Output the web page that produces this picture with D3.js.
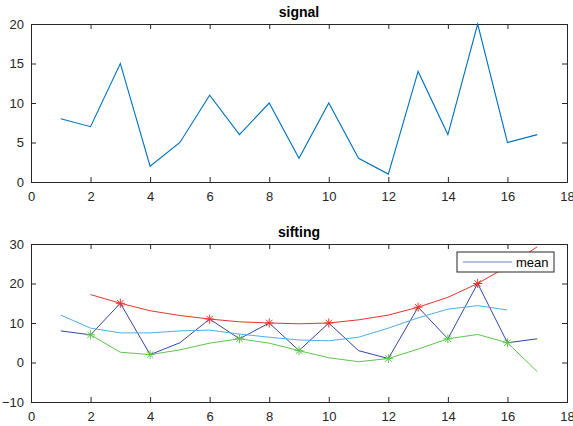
<!DOCTYPE html>
<html>
<head>
<meta charset="utf-8">
<script src="https://cdn.jsdelivr.net/npm/d3@7"></script>
<style>
  body { margin: 0; background: #fff; }
  text { font-family: "Liberation Sans", Arial, sans-serif; }
</style>
</head>
<body>
<svg id="chart" width="573" height="426"></svg>
<script>
// data
const xs = [1, 2, 3, 4, 5, 6, 7, 8, 9, 10, 11, 12, 13, 14, 15, 16, 17]
const signal = [8, 7, 15, 2, 5, 11, 6, 10, 3, 10, 3, 1, 14, 6, 20, 5, 6]
const upperX = [2, 3, 4, 5, 6, 7, 8, 9, 10, 11, 12, 13, 14, 15, 16, 17]
const upper = [17.2, 15, 13.1, 11.9, 11, 10.3, 10, 9.8, 10, 10.8, 12, 14, 16.5, 20, 24.3, 29.3]
const lowerX = [2, 3, 4, 5, 6, 7, 8, 9, 10, 11, 12, 13, 14, 15, 16, 17]
const lower = [7, 2.6, 2, 3.2, 4.9, 6, 4.9, 3, 1.2, 0.2, 1, 3.4, 6, 7.1, 5, -2.3]
const meanX = [1, 2, 3, 4, 5, 6, 7, 8, 9, 10, 11, 12, 13, 14, 15, 16]
const meanV = [12, 8.7, 7.5, 7.5, 8, 8.2, 7.2, 6.4, 5.7, 5.5, 6.4, 8.7, 11.3, 13.5, 14.4, 13.3]
const maxX = [3, 6, 8, 10, 13, 15]
const minX = [2, 4, 7, 9, 12, 14, 16]
const xTicks = [0, 2, 4, 6, 8, 10, 12, 14, 16, 18]
const yTicksTop = [0, 5, 10, 15, 20]
const yTicksBot = [-10, 0, 10, 20, 30]

const svg = d3.select('#chart')
const left = 31, right = 567
const tickLen = 5

function makeAxes(top, bottom, yDomain, yTicks, title) {
    const x = d3.scaleLinear().domain([0, 18]).range([left, right])
    const y = d3.scaleLinear().domain(yDomain).range([bottom, top])
    const g = svg.append('g')

    // inward ticks on all four sides, MATLAB style
    g.append('g')
        .attr('transform', `translate(0,${bottom})`)
        .call(d3.axisBottom(x).tickValues(xTicks).tickSize(-tickLen).tickPadding(10).tickFormat(d3.format('d')))
    g.append('g')
        .attr('transform', `translate(0,${top})`)
        .call(d3.axisTop(x).tickValues(xTicks).tickSize(-tickLen).tickFormat(''))
    g.append('g')
        .attr('transform', `translate(${left},0)`)
        .call(d3.axisLeft(y).tickValues(yTicks).tickSize(-tickLen).tickPadding(7).tickFormat(d3.format('d')))
    g.append('g')
        .attr('transform', `translate(${right},0)`)
        .call(d3.axisRight(y).tickValues(yTicks).tickSize(-tickLen).tickFormat(''))

    g.selectAll('.domain').attr('stroke', '#262626')
    g.selectAll('.tick line').attr('stroke', '#262626')
    g.selectAll('.tick text')
        .attr('font-size', 13)
        .attr('fill', '#262626')
        .attr('font-family', '"Liberation Sans", Arial, sans-serif')

    svg.append('text')
        .attr('x', (left + right) / 2)
        .attr('y', top - 7)
        .attr('text-anchor', 'middle')
        .attr('font-size', 14)
        .attr('font-weight', 'bold')
        .attr('fill', '#000')
        .text(title)

    return { x, y }
}

// top subplot
const a1 = makeAxes(24, 182, [0, 20], yTicksTop, 'signal')
svg.append('path')
    .datum(xs.map((d, i) => [d, signal[i]]))
    .attr('fill', 'none')
    .attr('stroke', '#0072BD')
    .attr('stroke-width', 1.1)
    .attr('d', d3.line().x(d => a1.x(d[0])).y(d => a1.y(d[1])))

// bottom subplot
const a2 = makeAxes(244, 402, [-10, 30], yTicksBot, 'sifting')

svg.append('clipPath').attr('id', 'clip2')
    .append('rect')
    .attr('x', left).attr('y', 244)
    .attr('width', right - left).attr('height', 402 - 244)

const plot = svg.append('g').attr('clip-path', 'url(#clip2)')
const line2 = d3.line().x(d => a2.x(d[0])).y(d => a2.y(d[1]))

const blue = '#3346a8', red = '#e8332b', green = '#5cc64c', light = '#4cb0e2'

plot.append('path')
    .datum(xs.map((d, i) => [d, signal[i]]))
    .attr('fill', 'none').attr('stroke', blue).attr('stroke-width', 1)
    .attr('d', line2)
plot.append('path')
    .datum(upperX.map((d, i) => [d, upper[i]]))
    .attr('fill', 'none').attr('stroke', red).attr('stroke-width', 1)
    .attr('d', line2)
plot.append('path')
    .datum(lowerX.map((d, i) => [d, lower[i]]))
    .attr('fill', 'none').attr('stroke', green).attr('stroke-width', 1)
    .attr('d', line2)
plot.append('path')
    .datum(meanX.map((d, i) => [d, meanV[i]]))
    .attr('fill', 'none').attr('stroke', light).attr('stroke-width', 1)
    .attr('d', line2)

// asterisk markers
function asterisk(cx, cy, r) {
    const d = r * 0.72
    return `M${cx - r},${cy}L${cx + r},${cy}M${cx},${cy - r}L${cx},${cy + r}` +
        `M${cx - d},${cy - d}L${cx + d},${cy + d}M${cx - d},${cy + d}L${cx + d},${cy - d}`
}
plot.selectAll('.maxm')
    .data(maxX)
    .join('path')
    .attr('class', 'maxm')
    .attr('fill', 'none').attr('stroke', red).attr('stroke-width', 1)
    .attr('d', d => asterisk(a2.x(d), a2.y(signal[d - 1]), 4.5))
plot.selectAll('.minm')
    .data(minX)
    .join('path')
    .attr('class', 'minm')
    .attr('fill', 'none').attr('stroke', green).attr('stroke-width', 1)
    .attr('d', d => asterisk(a2.x(d), a2.y(signal[d - 1]), 4.5))

// legend
const lg = svg.append('g').attr('transform', 'translate(457,252)')
lg.append('rect')
    .attr('width', 97).attr('height', 20)
    .attr('fill', '#fff').attr('stroke', '#262626').attr('stroke-width', 1)
lg.append('line')
    .attr('x1', 6).attr('x2', 55).attr('y1', 10).attr('y2', 10)
    .attr('stroke', '#6f80c8').attr('stroke-width', 1)
lg.append('text')
    .attr('x', 59).attr('y', 14.5)
    .attr('font-size', 13).attr('fill', '#000')
    .text('mean')
</script>
</body>
</html>
